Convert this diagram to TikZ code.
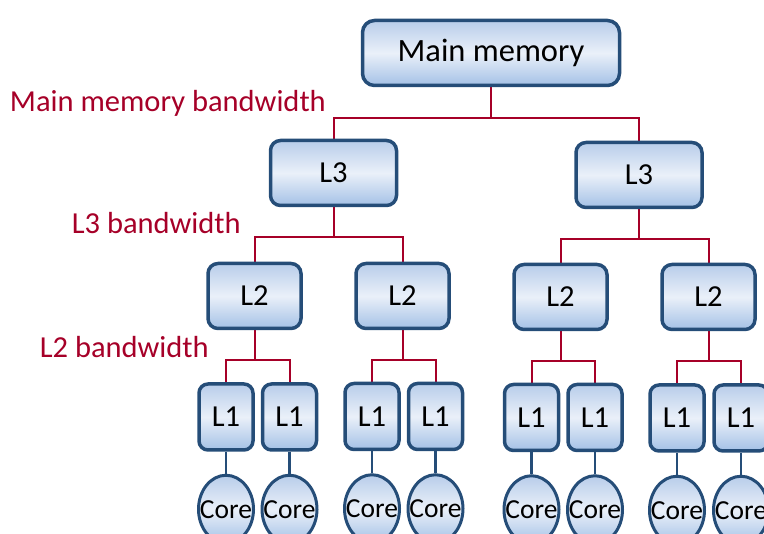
\documentclass[tikz,border=0pt]{standalone}
\usepackage{fontspec}
\setmainfont{Carlito}
\usetikzlibrary{positioning, shapes.geometric, backgrounds}
\definecolor{cboxline}{RGB}{37,77,120}
\definecolor{cboxtop}{RGB}{184,205,234}
\definecolor{cboxmid}{RGB}{234,240,249}
\definecolor{cboxbot}{RGB}{164,193,230}
\definecolor{cbw}{RGB}{166,0,40}
\tikzset{
    membox/.style={rectangle, rounded corners=10pt, draw=cboxline, line width=3.5pt, top color=cboxtop, bottom color=cboxbot, middle color=cboxmid, inner sep=0pt, font=\fontsize{30.5}{36}\selectfont},
    mainbox/.style={membox, minimum width=257pt, minimum height=65pt, rounded corners=12pt, font=\fontsize{32.5}{38}\selectfont},
    lthree/.style={membox, minimum width=126pt, minimum height=65pt},
    ltwo/.style={membox, minimum width=93pt, minimum height=65pt},
    lone/.style={membox, minimum width=54pt, minimum height=66pt, rounded corners=9pt},
    corenode/.style={ellipse, draw=cboxline, line width=3pt, top color=cboxtop, bottom color=cboxbot, middle color=cboxmid, minimum width=55pt, minimum height=68pt, inner sep=0pt, font=\fontsize{27.5}{32}\selectfont},
}

\begin{document}
\begin{tikzpicture}[
    x=1pt, y=-1pt,
    node distance=22pt,
    bwline/.style={draw=cbw, line width=2pt},
    coreline/.style={draw=cboxline, line width=2.5pt},
    bwlbl/.style={text=cbw, font=\fontsize{30.5}{36}\selectfont, inner sep=0pt, anchor=east}
]
\clip (0,0) rectangle (764,534);

% Main memory and L3
\node[mainbox] (mm) at (491,53) {Main memory};
\node[lthree] (l3a) at (333.5,173) {L3};
\node[lthree] (l3b) at (639,175) {L3};

% L2
\node[ltwo] (l2a) at (254.5,296) {L2};
\node[ltwo] (l2b) at (402.5,296) {L2};
\node[ltwo] (l2c) at (560.5,297) {L2};
\node[ltwo] (l2d) at (708.5,297) {L2};

% L1 with cores below
\foreach \n/\x/\y in {1/226/417, 2/289.5/417, 3/372/416.5, 4/435.5/416.5, 5/531.5/417.5, 6/595/417.5, 7/677/418, 8/741/418} {
    \node[lone] (l1\n) at (\x,\y) {L1};
    \node[corenode, below=of l1\n] (core\n) {\makebox[0pt]{Core}};
}

% Bandwidth labels
\node[bwlbl] (mmbw) at (326,103) {Main memory bandwidth};
\node[bwlbl] (l3bw) at (241,223) {L3 bandwidth};
\node[bwlbl] (l2bw) at (209,347) {L2 bandwidth};

% Connectors
\begin{scope}[on background layer]
\draw[bwline] (mm.south) -- ++(0,31) coordinate (mm-split) -| (l3a.north) (mm-split) -| (l3b.north);
\foreach \p/\a/\b in {l3a/l2a/l2b, l3b/l2c/l2d, l2a/l11/l12, l2b/l13/l14, l2c/l15/l16, l2d/l17/l18}
    \draw[bwline] (\p.south) -- ++(0,30) coordinate (\p-split) -| (\a.north) (\p-split) -| (\b.north);
\foreach \n in {1,...,8}
    \draw[coreline] (l1\n.south) -- (core\n.north);
\end{scope}

\end{tikzpicture}
\end{document}
